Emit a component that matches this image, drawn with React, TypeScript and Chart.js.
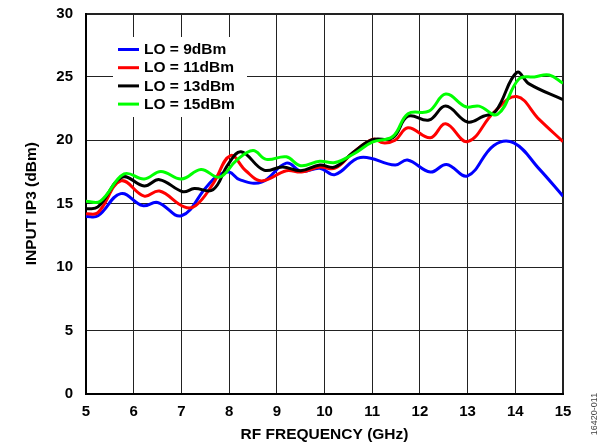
import { useEffect, useRef } from 'react';
import { Chart, registerables } from 'chart.js';

Chart.register(...registerables);

// RF frequency (GHz) and input IP3 (dBm) per LO drive level
const freqLo9 = [5.0, 5.25, 5.73, 6.19, 6.5, 7.0, 7.52, 7.76, 8.0, 8.22, 8.68, 9.2, 9.52, 9.9, 10.22, 10.75, 11.48, 11.74, 12.22, 12.56, 13.0, 13.55, 13.97, 14.5, 15.0];
const ip3Lo9 = [14.0, 14.05, 15.8, 14.85, 15.1, 14.05, 16.3, 17.2, 17.5, 16.9, 16.7, 18.2, 17.55, 17.8, 17.3, 18.65, 18.05, 18.45, 17.5, 18.1, 17.2, 19.6, 19.8, 17.75, 15.6];

const freqLo11 = [5.0, 5.25, 5.73, 6.22, 6.54, 7.06, 7.3, 7.66, 8.03, 8.35, 8.68, 9.2, 9.52, 9.9, 10.22, 10.6, 11.02, 11.23, 11.48, 11.75, 12.22, 12.54, 13.0, 13.55, 14.03, 14.5, 15.0];
const ip3Lo11 = [14.2, 14.3, 16.8, 15.6, 16.0, 14.75, 14.85, 16.55, 18.8, 17.6, 16.8, 17.6, 17.5, 17.9, 17.8, 19.05, 20.1, 19.8, 20.0, 21.0, 20.2, 21.3, 19.9, 22.2, 23.45, 21.65, 19.9];

const freqLo13 = [5.0, 5.25, 5.76, 6.22, 6.54, 7.03, 7.27, 7.66, 7.98, 8.25, 8.73, 9.12, 9.5, 9.9, 10.22, 10.6, 11.0, 11.43, 11.75, 12.19, 12.54, 13.0, 13.33, 13.59, 14.03, 14.29, 15.0];
const ip3Lo13 = [14.6, 14.75, 17.1, 16.4, 16.9, 15.95, 16.2, 16.1, 18.1, 19.1, 17.65, 17.9, 17.6, 18.05, 17.9, 19.05, 20.05, 20.2, 21.9, 21.6, 22.7, 21.45, 21.9, 22.3, 25.35, 24.45, 23.2];

const freqLo15 = [5.0, 5.3, 5.8, 6.22, 6.57, 7.0, 7.41, 7.8, 8.15, 8.5, 8.78, 9.2, 9.5, 9.9, 10.22, 10.6, 11.0, 11.43, 11.75, 12.19, 12.54, 12.96, 13.24, 13.63, 14.08, 14.4, 14.71, 15.0];
const ip3Lo15 = [15.2, 15.2, 17.35, 16.95, 17.55, 16.95, 17.7, 17.1, 18.4, 19.2, 18.5, 18.7, 18.0, 18.35, 18.25, 18.9, 19.85, 20.3, 22.1, 22.3, 23.65, 22.65, 22.7, 22.05, 24.85, 25.0, 25.15, 24.5];

const seriesLabels = ['LO = 9dBm', 'LO = 11dBm', 'LO = 13dBm', 'LO = 15dBm'];
const seriesColors = ['#0000ff', '#ff0000', '#000000', '#00ff00'];
const seriesFreqs = [freqLo9, freqLo11, freqLo13, freqLo15];
const seriesIp3 = [ip3Lo9, ip3Lo11, ip3Lo13, ip3Lo15];

const xAxisRange = [5, 15];
const yAxisRange = [0, 30];
const xTitle = 'RF FREQUENCY (GHz)';
const yTitle = 'INPUT IP3 (dBm)';
const figureId = '16420-011';

const FONT = '"Liberation Sans", Arial, sans-serif';

const annotationPlugin = {
  id: 'annotations',
  afterDraw(chart: any) {
    const ctx = chart.ctx as CanvasRenderingContext2D;
    const ca = chart.chartArea;
    ctx.save();
    // legend box
    const bx = ca.left + 27;
    const by = ca.top + 23.5;
    ctx.fillStyle = '#ffffff';
    ctx.fillRect(bx, by, 134, 80);
    ctx.font = `bold 15.5px ${FONT}`;
    ctx.textBaseline = 'middle';
    ctx.textAlign = 'left';
    seriesLabels.forEach((lab, i) => {
      const y = ca.top + 36 + i * 18.2;
      ctx.strokeStyle = seriesColors[i];
      ctx.lineWidth = 3;
      ctx.beginPath();
      ctx.moveTo(ca.left + 32, y);
      ctx.lineTo(ca.left + 53, y);
      ctx.stroke();
      ctx.fillStyle = '#000';
      ctx.fillText(lab, ca.left + 58, y + 0.5);
    });
    // axis titles
    ctx.fillStyle = '#000';
    ctx.font = `bold 15.5px ${FONT}`;
    ctx.textAlign = 'center';
    ctx.textBaseline = 'middle';
    ctx.fillText(xTitle, (ca.left + ca.right) / 2, 435);
    ctx.save();
    ctx.translate(31.5, (ca.top + ca.bottom) / 2);
    ctx.rotate(-Math.PI / 2);
    ctx.fillText(yTitle, 0, 0);
    ctx.restore();
    // figure id
    ctx.save();
    ctx.font = `9px ${FONT}`;
    ctx.fillStyle = '#444';
    ctx.translate(595, 414);
    ctx.rotate(-Math.PI / 2);
    ctx.fillText(figureId, 0, 0);
    ctx.restore();
    ctx.restore();
  },
};

export default function App() {
  const ref = useRef<HTMLCanvasElement>(null);
  useEffect(() => {
    const datasets = seriesLabels.map((label, i) => ({
      label,
      data: seriesFreqs[i].map((f, j) => ({ x: f, y: seriesIp3[i][j] })),
      borderColor: seriesColors[i],
      backgroundColor: seriesColors[i],
      borderWidth: 3,
      pointRadius: 0,
      tension: 0.4,
      fill: false,
      order: seriesLabels.length - i,
    }));
    const chart = new Chart(ref.current!, {
      type: 'line',
      data: { datasets },
      plugins: [annotationPlugin],
      options: {
        responsive: false,
        animation: false,
        layout: { padding: { top: 13.5, right: 53, left: 0, bottom: 0 } },
        plugins: { legend: { display: false }, tooltip: { enabled: false } },
        scales: {
          x: {
            type: 'linear',
            min: xAxisRange[0],
            max: xAxisRange[1],
            afterFit: (s: any) => { s.height = 53; s.paddingLeft = 0; s.paddingRight = 0; },
            ticks: {
              stepSize: 1,
              padding: 9,
              color: '#000',
              font: { family: FONT, size: 15, weight: 'bold' },
              maxRotation: 0,
            },
            grid: {
              drawTicks: false,
              color: '#222',
              lineWidth: (c: any) => (c.index === 10 ? 2 : 1),
            },
            border: { display: true, color: '#000', width: 2 },
          },
          y: {
            min: yAxisRange[0],
            max: yAxisRange[1],
            afterFit: (s: any) => { s.width = 86; s.paddingTop = 0; s.paddingBottom = 0; },
            ticks: {
              stepSize: 5,
              padding: 13,
              color: '#000',
              font: { family: FONT, size: 15, weight: 'bold' },
            },
            grid: {
              drawTicks: false,
              color: '#222',
              lineWidth: (c: any) => (c.index === 6 ? 2 : 1),
            },
            border: { display: true, color: '#000', width: 2 },
          },
        },
      },
    } as any);
    return () => chart.destroy();
  }, []);
  return (
    <div style={{ position: 'absolute', left: 0, top: 0, width: 616, height: 447, background: '#fff' }}>
      <canvas ref={ref} width={616} height={447} style={{ display: 'block' }} />
    </div>
  );
}
